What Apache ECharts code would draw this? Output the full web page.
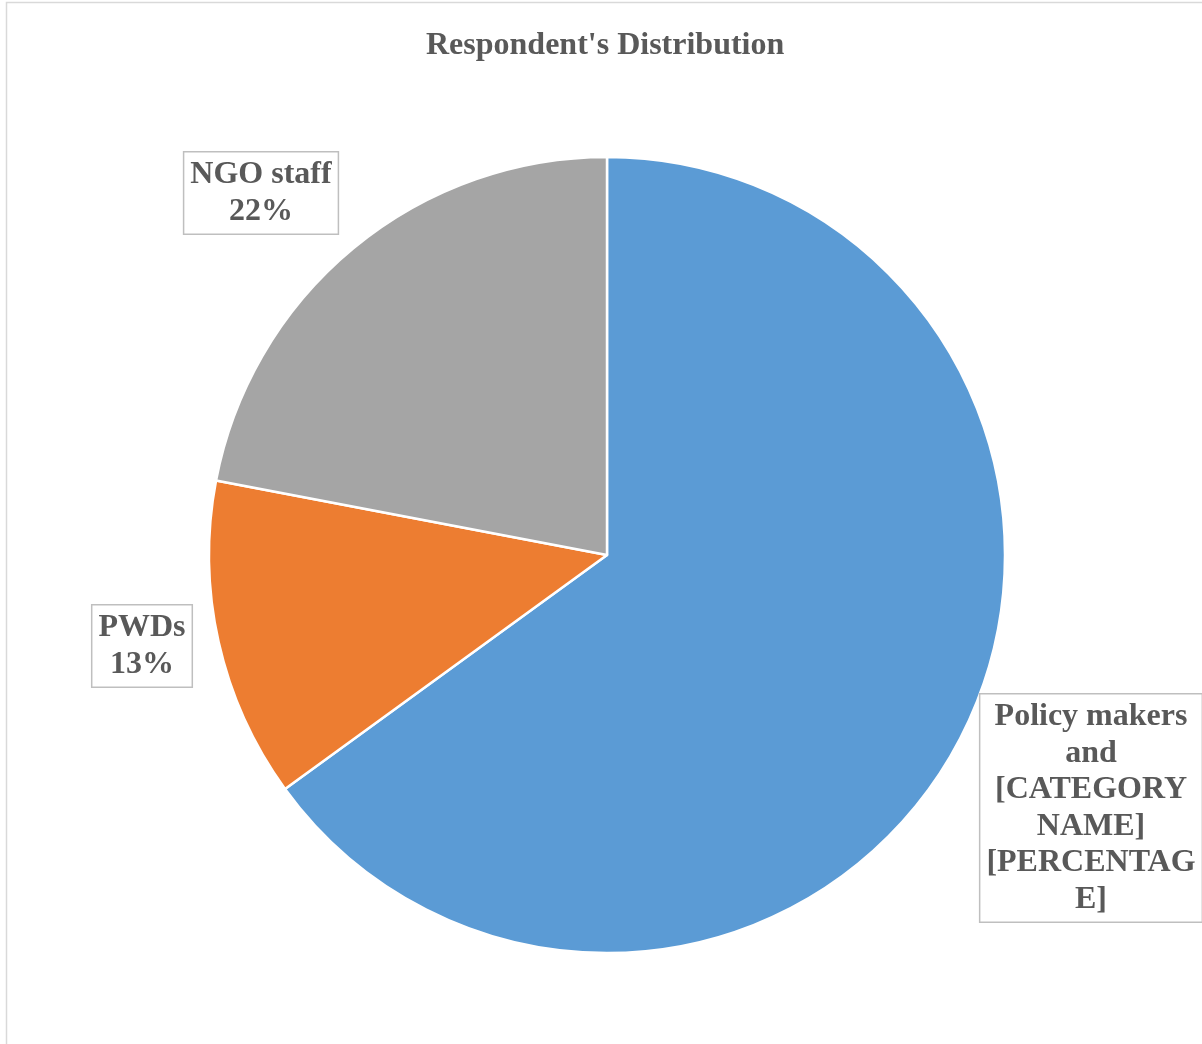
<!DOCTYPE html>
<html>
<head>
<meta charset="utf-8">
<script src="https://cdn.jsdelivr.net/npm/echarts@6/dist/echarts.min.js"></script>
<style>html,body{margin:0;padding:0;background:#fff}#c{width:1202px;height:1044px}</style>
</head>
<body>
<div id="c"></div>
<script>
const categories = ["Policy makers and", "PWDs", "NGO staff"];
const values = [65, 13, 22];
const labelTexts = [
  "Policy makers\nand\n[CATEGORY\nNAME]\n[PERCENTAG\nE]",
  "PWDs\n13%",
  "NGO staff\n22%"
];
const colors = ["#5B9BD5", "#ED7D31", "#A5A5A5"];
const labelCenters = [[1091, 808], [142, 646], [261, 193]];

const chart = echarts.init(document.getElementById('c'), null, {renderer: 'canvas'});
chart.setOption({
  backgroundColor: '#ffffff',
  animation: false,
  title: {
    text: "Respondent's Distribution",
    left: 421,
    top: 25,
    textStyle: {fontFamily: 'Liberation Serif', fontWeight: 'bold', fontSize: 32, color: '#595959'}
  },
  graphic: [{
    type: 'rect', silent: true,
    shape: {x: 6.5, y: 2.5, width: 1300, height: 1200},
    style: {fill: 'none', stroke: '#d9d9d9', lineWidth: 1.5}
  }],
  series: [{
    type: 'pie',
    center: [607, 555],
    radius: [0, 398],
    startAngle: 90,
    clockwise: true,
    itemStyle: {borderColor: '#ffffff', borderWidth: 2.5},
    label: {
      show: true,
      position: 'inside',
      formatter: p => labelTexts[p.dataIndex],
      fontFamily: 'Liberation Serif',
      fontWeight: 'bold',
      fontSize: 32,
      lineHeight: 36.5,
      color: '#595959',
      align: 'center',
      overflow: 'none',
      backgroundColor: '#ffffff',
      borderColor: '#bfbfbf',
      borderWidth: 1.5,
      padding: [7, 6, 1, 6]
    },
    labelLine: {show: false},
    labelLayout: p => ({x: labelCenters[p.dataIndex][0], y: labelCenters[p.dataIndex][1], align: 'center', verticalAlign: 'middle'}),
    data: categories.map((c, i) => ({name: c, value: values[i], itemStyle: {color: colors[i]}}))
  }]
});
</script>
</body>
</html>
